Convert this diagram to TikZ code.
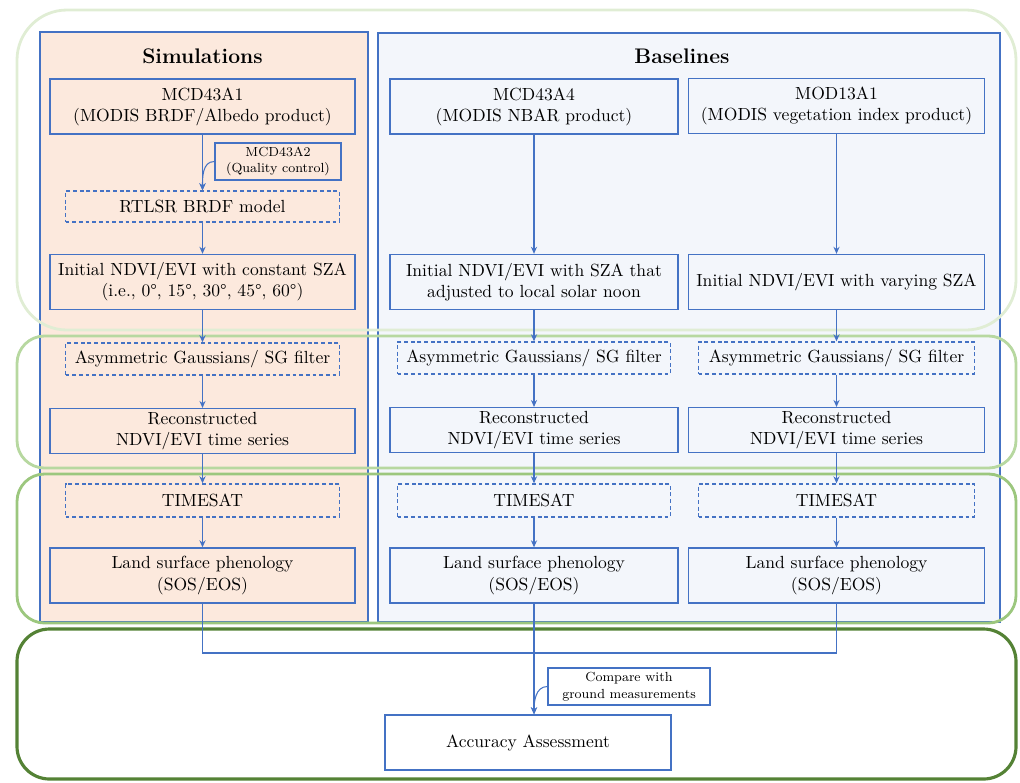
\documentclass[tikz,border=0pt]{standalone}
\usetikzlibrary{arrows.meta}
\definecolor{lineblue}{HTML}{4472C4}
\definecolor{simfill}{HTML}{FCE9DD}
\definecolor{basefill}{HTML}{F3F6FB}
\definecolor{grnA}{HTML}{E0EDD4}
\definecolor{grnB}{HTML}{B7D8A0}
\definecolor{grnC}{HTML}{9CC77E}
\definecolor{grnD}{HTML}{548235}
\tikzset{
	box/.style={draw=lineblue, line width=0.8pt, align=center, inner sep=2pt, minimum height=1.1cm},
	dbox/.style={box, dash pattern=on 2.2pt off 1.6pt, minimum height=0.64cm},
	note/.style={box, font=\fontsize{7.5}{9.5}\selectfont, minimum height=0.74cm},
	panel/.style={draw=lineblue, line width=0.6pt},
	arr/.style={draw=lineblue, line width=0.6pt, -{Stealth[length=4pt,width=3.5pt]}},
	link/.style={draw=lineblue, line width=0.6pt}
}
\begin{document}
\begin{tikzpicture}[x=0.02cm,y=-0.02cm]
	\useasboundingbox (0,0) rectangle (1020,782);

	% panels
	\draw[panel,fill=simfill] (40,32) rectangle (368,622);
	\draw[panel,fill=basefill] (378,33) rectangle (1000,622);
	\node[font=\large\bfseries] (simtitle) at (202.5,56) {Simulations};
	\node[font=\large\bfseries] (basetitle) at (682,56) {Baselines};

	% stage frames
	\draw[grnA, line width=1.6pt, rounded corners=1cm] (17,10) rectangle (1016,330);
	\draw[grnB, line width=1.6pt, rounded corners=0.55cm] (17,336) rectangle (1016,468);
	\draw[grnC, line width=1.6pt, rounded corners=0.55cm] (17,474) rectangle (1016,623);
	\draw[grnD, line width=1.8pt, rounded corners=0.65cm] (17,629) rectangle (1016,779);

	% simulations
	\node[box, minimum width=6.1cm] (a1) at (202.5,106.5) {MCD43A1\\(MODIS BRDF/Albedo product)};
	\node[note, minimum width=2.52cm] (a2) at (278,161.5) {MCD43A2\\(Quality control)};
	\node[dbox, minimum width=5.48cm, minimum height=0.62cm] (brdf) at (202.5,206.5) {RTLSR BRDF model};
	\node[box, minimum width=6.1cm] (ini1) at (202.5,282) {Initial NDVI/EVI with constant SZA\\(i.e., 0°, 15°, 30°, 45°, 60°)};
	\node[dbox, minimum width=5.48cm] (fit1) at (202.5,359) {Asymmetric Gaussians/ SG filter};
	\node[box, minimum width=6.1cm, minimum height=0.88cm] (rec1) at (202.5,431) {Reconstructed\\NDVI/EVI time series};
	\node[dbox, minimum width=5.48cm, minimum height=0.66cm] (ts1) at (202.5,500.5) {TIMESAT};
	\node[box, minimum width=6.1cm] (lsp1) at (202.5,575.5) {Land surface phenology\\(SOS/EOS)};

	% baselines, NBAR
	\node[box, minimum width=5.76cm] (b1) at (534,106.5) {MCD43A4\\(MODIS NBAR product)};
	\node[box, minimum width=5.76cm] (ini2) at (534,282) {Initial NDVI/EVI with SZA that\\adjusted to local solar noon};
	\node[dbox, minimum width=5.46cm] (fit2) at (534,358) {Asymmetric Gaussians/ SG filter};
	\node[box, minimum width=5.76cm, minimum height=0.88cm] (rec2) at (534,430) {Reconstructed\\NDVI/EVI time series};
	\node[dbox, minimum width=5.46cm, minimum height=0.66cm] (ts2) at (534,500.5) {TIMESAT};
	\node[box, minimum width=5.76cm] (lsp2) at (534,575.5) {Land surface phenology\\(SOS/EOS)};

	% baselines, VI
	\node[box, minimum width=5.92cm] (c1) at (836.5,106) {MOD13A1\\(MODIS vegetation index product)};
	\node[box, minimum width=5.92cm] (ini3) at (836.5,282) {Initial NDVI/EVI with varying SZA};
	\node[dbox, minimum width=5.52cm] (fit3) at (836.5,358) {Asymmetric Gaussians/ SG filter};
	\node[box, minimum width=5.92cm, minimum height=0.88cm] (rec3) at (836.5,430) {Reconstructed\\NDVI/EVI time series};
	\node[dbox, minimum width=5.52cm, minimum height=0.66cm] (ts3) at (836.5,500.5) {TIMESAT};
	\node[box, minimum width=5.92cm] (lsp3) at (836.5,575.5) {Land surface phenology\\(SOS/EOS)};

	% assessment
	\node[box, minimum width=5.72cm] (acc) at (528,742.5) {Accuracy Assessment};
	\node[note, minimum width=3.24cm] (gnd) at (629,686.5) {Compare with\\ground measurements};
	\coordinate (jn) at (534,653);
	\coordinate (acctop) at (lsp2.south |- acc.north);

	\draw[arr] (a1) -- (brdf);
	\draw[arr] (a2.west) to[out=180,in=90] (brdf.north);
	\draw[arr] (brdf) -- (ini1);
	\draw[arr] (ini1) -- (fit1);
	\draw[arr] (fit1) -- (rec1);
	\draw[arr] (rec1) -- (ts1);
	\draw[arr] (ts1) -- (lsp1);

	\draw[arr] (b1) -- (ini2);
	\draw[arr] (ini2) -- (fit2);
	\draw[arr] (fit2) -- (rec2);
	\draw[arr] (rec2) -- (ts2);
	\draw[arr] (ts2) -- (lsp2);

	\draw[arr] (c1) -- (ini3);
	\draw[arr] (ini3) -- (fit3);
	\draw[arr] (fit3) -- (rec3);
	\draw[arr] (rec3) -- (ts3);
	\draw[arr] (ts3) -- (lsp3);

	\draw[link] (lsp1.south) |- (jn) -| (lsp3.south);
	\draw[arr] (lsp2.south) -- (acctop);
	\draw[arr] (gnd.west) to[out=180,in=90] (acctop);
\end{tikzpicture}
\end{document}
